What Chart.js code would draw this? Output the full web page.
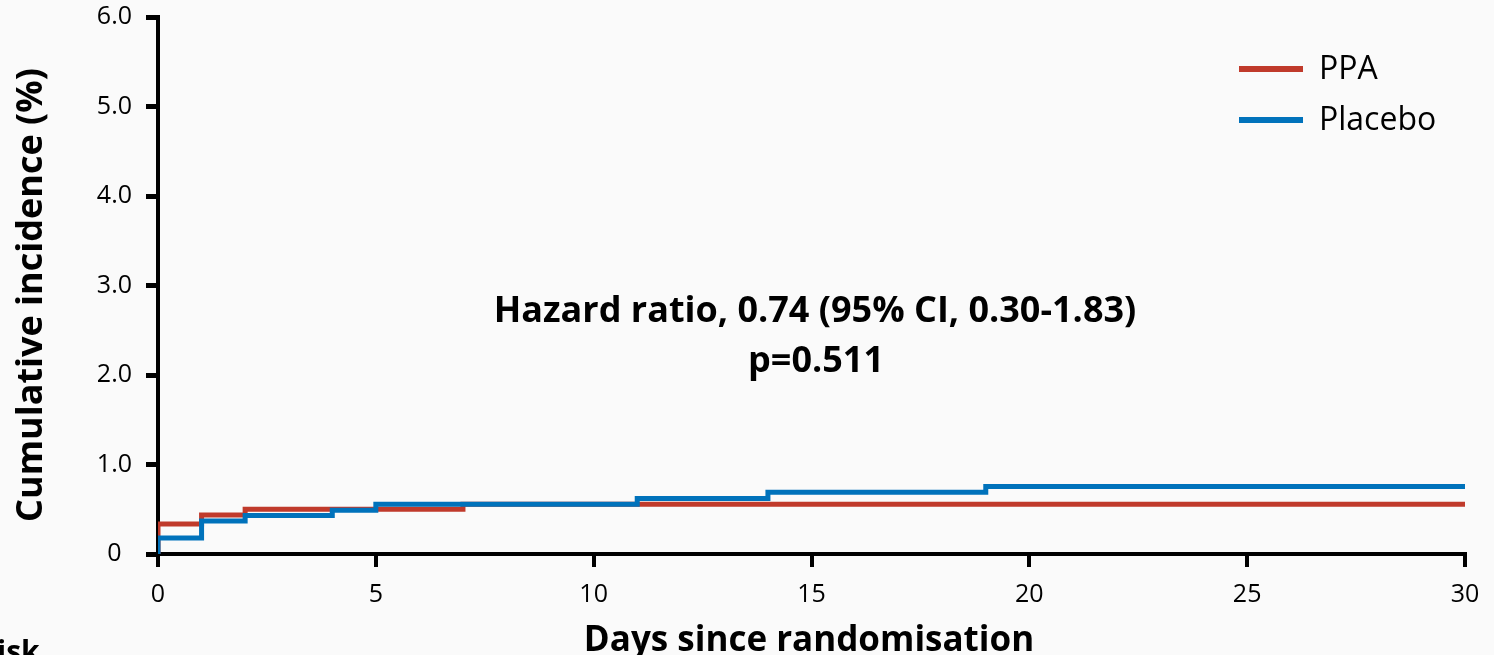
<!DOCTYPE html>
<html>
<head>
<meta charset="utf-8">
<script src="https://cdn.jsdelivr.net/npm/chart.js@4.4.1/dist/chart.umd.min.js"></script>
<style>
  html, body { margin: 0; padding: 0; background: #fafafa; }
  #wrap { width: 1494px; height: 655px; }
</style>
</head>
<body>
<div id="wrap"><canvas id="kmChart" width="1494" height="655"></canvas></div>
<script>
// cumulative incidence (%), step points (day, value)
const ppaDays = [0, 0, 1, 2, 7, 30];
const ppaValues = [0, 0.335, 0.435, 0.50, 0.555, 0.555];
const placeboDays = [0, 0, 1, 2, 4, 5, 11, 14, 19, 30];
const placeboValues = [0, 0.18, 0.37, 0.43, 0.49, 0.555, 0.62, 0.69, 0.755, 0.755];

const seriesNames = ["PPA", "Placebo"];
const xTickLabels = ["0", "5", "10", "15", "20", "25", "30"];
const yTickLabels = ["0", "1.0", "2.0", "3.0", "4.0", "5.0", "6.0"];

const RED = "rgb(192, 58, 43)";
const BLUE = "rgb(0, 114, 187)";
const FONT = "'Open Sans', 'Noto Sans', sans-serif";

const toPoints = (xs, ys) => xs.map((x, i) => ({ x: x, y: ys[i] }));

const textPlugin = {
  id: "kmText",
  beforeDraw: (chart) => {
    const { ctx } = chart;
    ctx.save();
    ctx.fillStyle = "#fafafa";
    ctx.fillRect(0, 0, chart.width, chart.height);
    ctx.restore();
  },
  afterDraw: (chart) => {
    const { ctx } = chart;
    ctx.save();
    ctx.fillStyle = "#000";

    // axis titles
    ctx.font = "bold 35px " + FONT;
    ctx.textAlign = "center";
    ctx.textBaseline = "alphabetic";
    ctx.fillText("Days since randomisation", 809, 651);
    ctx.font = "bold 36px " + FONT;
    ctx.save();
    ctx.translate(42, 295);
    ctx.rotate(-Math.PI / 2);
    ctx.fillText("Cumulative incidence (%)", 0, 0);
    ctx.restore();

    // hazard ratio annotation
    ctx.fillText("Hazard ratio, 0.74 (95% CI, 0.30-1.83)", 815, 322);
    ctx.fillText("p=0.511", 816, 372);

    // clipped "Number at risk" label at the bottom left
    ctx.font = "bold 30px " + FONT;
    ctx.textAlign = "left";
    ctx.fillText("isk", -3, 662);

    // legend
    const colors = [RED, BLUE];
    ctx.font = "32px " + FONT;
    ctx.textBaseline = "middle";
    seriesNames.forEach((name, i) => {
      const y = 69 + i * 51;
      ctx.strokeStyle = colors[i];
      ctx.lineWidth = 6;
      ctx.beginPath();
      ctx.moveTo(1239, y);
      ctx.lineTo(1303, y);
      ctx.stroke();
      ctx.fillStyle = "#000";
      ctx.fillText(name, 1319, y + 1);
    });
    ctx.restore();
  },
};

new Chart(document.getElementById("kmChart").getContext("2d"), {
  type: "line",
  data: {
    datasets: [
      {
        label: seriesNames[1],
        data: toPoints(placeboDays, placeboValues),
        borderColor: BLUE,
        borderWidth: 5,
        stepped: true,
        pointRadius: 0,
        fill: false,
      },
      {
        label: seriesNames[0],
        data: toPoints(ppaDays, ppaValues),
        borderColor: RED,
        borderWidth: 5,
        stepped: true,
        pointRadius: 0,
        fill: false,
      },
    ],
  },
  options: {
    responsive: false,
    animation: false,
    layout: {
      padding: { left: 0, right: 29, top: 17, bottom: 0 },
    },
    plugins: {
      legend: { display: false },
      tooltip: { enabled: false },
    },
    scales: {
      x: {
        type: "linear",
        min: 0,
        max: 30,
        afterFit: (scale) => {
          scale.height = 101;
          scale.paddingLeft = 0;
          scale.paddingRight = 0;
        },
        border: { color: "#000", width: 4 },
        grid: {
          drawOnChartArea: false,
          drawTicks: true,
          tickLength: 13,
          color: "#000",
          lineWidth: 4,
        },
        ticks: {
          stepSize: 5,
          padding: 13,
          maxRotation: 0,
          color: "#000",
          font: { family: FONT, size: 25 },
          callback: (value) => xTickLabels[value / 5],
        },
      },
      y: {
        type: "linear",
        min: 0,
        max: 6,
        afterFit: (scale) => {
          scale.width = 158;
          scale.paddingTop = 0;
          scale.paddingBottom = 0;
        },
        border: { color: "#000", width: 4 },
        grid: {
          drawOnChartArea: false,
          drawTicks: true,
          tickLength: 12,
          color: "#000",
          lineWidth: 5,
        },
        ticks: {
          stepSize: 1,
          padding: 14,
          crossAlign: "center",
          color: "#000",
          font: { family: FONT, size: 25 },
          callback: (value) => yTickLabels[value],
        },
      },
    },
  },
  plugins: [textPlugin],
});
</script>
</body>
</html>
